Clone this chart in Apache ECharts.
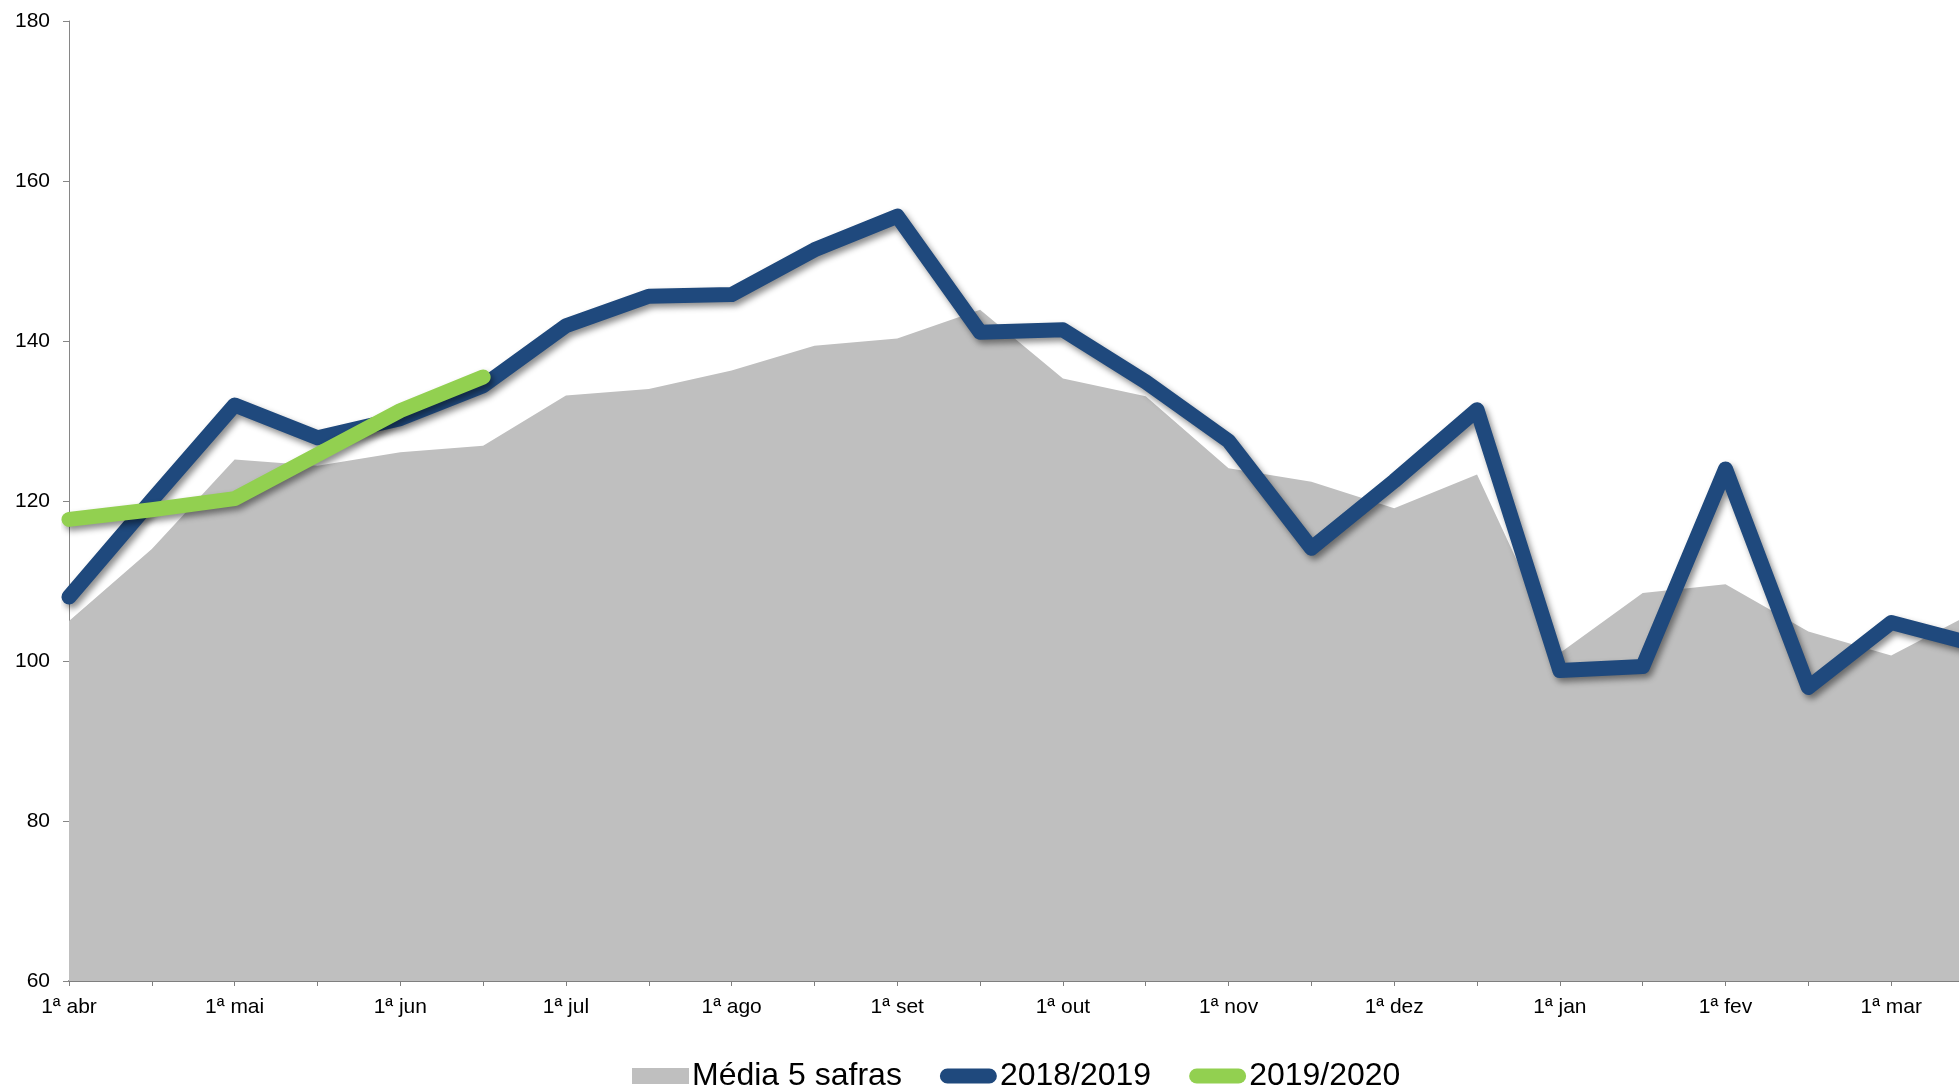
<!DOCTYPE html>
<html>
<head>
<meta charset="utf-8">
<script src="https://cdn.jsdelivr.net/npm/echarts@6/dist/echarts.min.js"></script>
<style>
  html, body { margin: 0; padding: 0; background: #fff; overflow: hidden; }
  /* a bit wider than the window: the last half-month point sits past the right edge */
  #chart { width: 1974px; height: 1090px; }
</style>
</head>
<body>
<div id="chart"></div>
<script>
// first and second half of each month, Apr -> Mar
const months = ['abr', 'mai', 'jun', 'jul', 'ago', 'set', 'out', 'nov', 'dez', 'jan', 'fev', 'mar']
const categories = []
months.forEach(m => { categories.push('1ª ' + m); categories.push('2ª ' + m) })

const media5 = [105.0, 114.0, 125.2, 124.4, 126.1, 126.9, 133.2, 134.0, 136.3, 139.4, 140.3, 143.9,
                135.3, 133.1, 124.1, 122.4, 119.1, 123.3, 101.0, 108.5, 109.6, 103.7, 100.7, 106.1]
const safra1819 = [108.0, 120.1, 132.0, 127.9, 130.3, 134.4, 141.9, 145.6, 145.8, 151.4, 155.6, 141.1,
                   141.4, 134.9, 127.5, 114.1, 122.5, 131.4, 98.8, 99.3, 124.0, 96.7, 104.8, 102.1]
const safra1920 = [117.7, 118.9, 120.3, 125.8, 131.3, 135.5]

const font = "'Liberation Sans', Arial, sans-serif"
const pill = 'path://M8,0 L52,0 A8,8 0 0 1 52,16 L8,16 A8,8 0 0 1 8,0 Z'

var myChart = echarts.init(document.getElementById('chart'), null, { width: 1974, height: 1090 })

myChart.setOption({
  animation: false,
  textStyle: { fontFamily: font },
  grid: { left: 69, right: 0, top: 21, bottom: 109, containLabel: false },
  legend: {
    left: 627,
    top: 1055,
    itemWidth: 57,
    itemHeight: 16,
    itemGap: 38,
    textStyle: { fontSize: 32, color: '#000', fontFamily: font, padding: [0, 0, 0, -2] },
    data: [
      { name: 'Média 5 safras', icon: 'rect', itemStyle: { color: '#bfbfbf' } },
      { name: '2018/2019', icon: pill, itemStyle: { color: '#1f497d' } },
      { name: '2019/2020', icon: pill, itemStyle: { color: '#92d050' } }
    ]
  },
  xAxis: {
    type: 'category',
    boundaryGap: false,
    data: categories,
    axisLine: { lineStyle: { color: '#7f7f7f', width: 2 } },
    axisTick: { show: true, interval: 0, length: 5, lineStyle: { color: '#7f7f7f' } },
    axisLabel: { interval: 1, margin: 16, fontSize: 21, color: '#000', fontFamily: font },
    splitLine: { show: false }
  },
  yAxis: {
    type: 'value',
    min: 60,
    max: 180,
    interval: 20,
    axisLine: { show: true, lineStyle: { color: '#868686', width: 1 } },
    axisTick: { show: true, length: 6, lineStyle: { color: '#868686' } },
    axisLabel: { margin: 19, fontSize: 21, color: '#000', fontFamily: font },
    splitLine: { show: false }
  },
  series: [
    {
      name: 'Média 5 safras',
      type: 'line',
      data: media5,
      symbol: 'none',
      lineStyle: { width: 0, color: '#bfbfbf' },
      itemStyle: { color: '#bfbfbf' },
      areaStyle: { color: '#bfbfbf', opacity: 1 },
      z: 1
    },
    {
      name: '2018/2019',
      type: 'line',
      data: safra1819,
      symbol: 'none',
      itemStyle: { color: '#1f497d' },
      lineStyle: {
        width: 15, color: '#1f497d', join: 'round', cap: 'round',
        shadowColor: 'rgba(0,0,0,0.45)', shadowBlur: 6, shadowOffsetX: 3, shadowOffsetY: 4
      },
      z: 2
    },
    {
      name: '2019/2020',
      type: 'line',
      data: safra1920,
      symbol: 'none',
      itemStyle: { color: '#92d050' },
      lineStyle: {
        width: 15, color: '#92d050', join: 'round', cap: 'round',
        shadowColor: 'rgba(0,0,0,0.45)', shadowBlur: 6, shadowOffsetX: 3, shadowOffsetY: 4
      },
      z: 3
    }
  ]
})
</script>
</body>
</html>
